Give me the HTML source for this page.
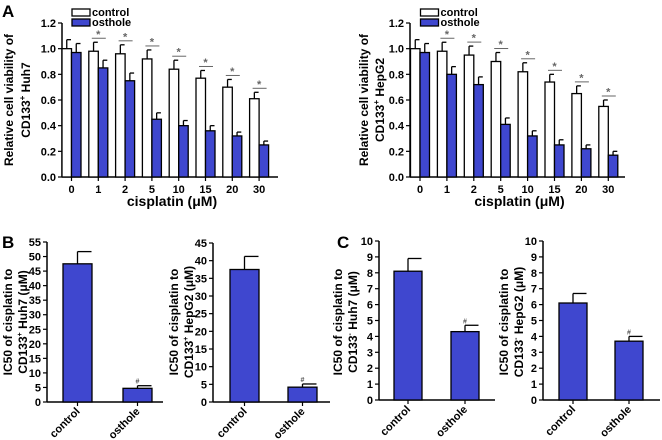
<!DOCTYPE html>
<html><head><meta charset="utf-8">
<style>
body{margin:0;background:#fff;}
svg{display:block;font-family:"Liberation Sans",Arial,sans-serif;font-weight:bold;}
</style></head>
<body>
<svg id="fig" width="662" height="440" viewBox="0 0 662 440"></svg>
<script>
const doseCategories=["0","1","2","5","10","15","20","30"];
const huh7Control=[1.0,0.98,0.96,0.92,0.84,0.77,0.70,0.61];
const huh7ControlErr=[0.07,0.07,0.07,0.07,0.07,0.06,0.06,0.05];
const huh7Osthole=[0.97,0.85,0.75,0.45,0.40,0.36,0.32,0.25];
const huh7OstholeErr=[0.07,0.06,0.06,0.05,0.04,0.04,0.03,0.03];
const hepControl=[1.0,0.98,0.95,0.90,0.82,0.74,0.65,0.55];
const hepControlErr=[0.07,0.07,0.07,0.07,0.07,0.06,0.06,0.05];
const hepOsthole=[0.97,0.80,0.72,0.41,0.32,0.25,0.22,0.17];
const hepOstholeErr=[0.07,0.06,0.06,0.05,0.04,0.04,0.03,0.03];
const viabilityTicks=[0,0.2,0.4,0.6,0.8,1.0,1.2];
const groupCategories=["control","osthole"];
const ic50Huh7Pos=[47.5,4.7], ic50Huh7PosErr=[4.2,0.9];
const ic50HepPos=[37.5,4.2], ic50HepPosErr=[3.7,0.9];
const ic50Huh7Neg=[8.1,4.3], ic50Huh7NegErr=[0.8,0.4];
const ic50HepNeg=[6.1,3.7], ic50HepNegErr=[0.6,0.3];
const ticksB1=[0,5,10,15,20,25,30,35,40,45,50,55];
const ticksB2=[0,5,10,15,20,25,30,35,40,45];
const ticksC=[0,1,2,3,4,5,6,7,8,9,10];

const NS="http://www.w3.org/2000/svg";
const svg=document.getElementById('fig');
const BLUE="#3f47cf";
function el(tag,attrs,parent){const e=document.createElementNS(NS,tag);for(const k in attrs)e.setAttribute(k,attrs[k]);(parent||svg).appendChild(e);return e;}
function txt(s,attrs,parent){const t=el('text',attrs,parent);t.textContent=s;return t;}

function yAxis(g,ax,y0,yTop,max,ticks,fmt){
  const ys=v=>y0-(v/max)*(y0-yTop);
  const a=el('line',{x1:ax,y1:y0,x2:ax,y2:yTop,stroke:'#000','stroke-width':1.5},g);
  
  ticks.forEach(v=>{
    el('line',{x1:ax-4,y1:ys(v),x2:ax,y2:ys(v),stroke:'#000','stroke-width':1.2},g);
    const t=txt(fmt(v),{x:ax-6,y:ys(v)+4,'text-anchor':'end','font-size':11},g);
    
  });
  return ys;
}
function bar(g,x,w,ys,y0,v,e,fill,name){
  const top=ys(v);
  const r=el('rect',{x:x,y:top,width:w,height:y0-top,fill:fill,stroke:'#000','stroke-width':1.3},g);
  
  const et=ys(v+e);
  el('line',{x1:x+w/2,y1:top,x2:x+w/2,y2:et,stroke:'#000','stroke-width':1.3},g);
  el('line',{x1:x+w/2,y1:et,x2:x+w-0.5,y2:et,stroke:'#000','stroke-width':1.3},g);
}
function titleLines(g,cx1,cx2,cy,l1,l2,fs){
  const a=txt('',{transform:`translate(${cx1},${cy}) rotate(-90)`,'text-anchor':'middle','font-size':fs},g);
  a.innerHTML=l1;
  
  const b=txt('',{transform:`translate(${cx2},${cy}) rotate(-90)`,'text-anchor':'middle','font-size':fs},g);
  b.innerHTML=l2;
}
function grouped(name,ax,axEnd,x0,step,ctrl,ctrlE,ost,ostE,tx1,tx2,l2){
  const g=el('g',{});
  
  const y0=177,yTop=23;
  const ys=yAxis(g,ax,y0,yTop,1.2,viabilityTicks,v=>v.toFixed(1));
  const xa=el('line',{x1:ax,y1:y0,x2:axEnd,y2:y0,stroke:'#000','stroke-width':1.5},g);
  
  const bw=9.5;
  doseCategories.forEach((c,i)=>{
    const x=x0+step*i;
    bar(g,x,bw,ys,y0,ctrl[i],ctrlE[i],'#fff','bar-control-'+c);
    bar(g,x+bw,bw,ys,y0,ost[i],ostE[i],BLUE,'bar-osthole-'+c);
    el('line',{x1:x+bw,y1:y0,x2:x+bw,y2:y0+4,stroke:'#000','stroke-width':1.2},g);
    const t=txt(c,{x:x+bw,y:y0+16,'text-anchor':'middle','font-size':11},g);
    
    if(i>0){
      const sy=ys(ctrl[i]+ctrlE[i])-4;
      el('line',{x1:x+3,y1:sy,x2:x+bw*2-2,y2:sy,stroke:'#666','stroke-width':1},g);
      const s=txt('*',{x:x+bw,y:sy-0.5,'text-anchor':'middle','font-size':11,fill:'#666'},g);
      
    }
  });
  const xt=txt('cisplatin (μM)',{x:(ax+axEnd)/2+2,y:206,'text-anchor':'middle','font-size':14},g);
  
  titleLines(g,tx1,tx2,100,'Relative cell viability of',l2,12);
  // legend
  const lx=x0+10;
  const r1=el('rect',{x:lx,y:9,width:18,height:7,fill:'#fff',stroke:'#000','stroke-width':1.3},g);
  
  const r2=el('rect',{x:lx,y:19,width:18,height:7,fill:BLUE,stroke:'#000','stroke-width':1.3},g);
  
  const t1=txt('control',{x:lx+20,y:16,'font-size':11},g);
  
  const t2=txt('osthole',{x:lx+20,y:26,'font-size':11},g);
  
}
grouped('chart-a-huh7',62,278,62,26.8,huh7Control,huh7ControlErr,huh7Osthole,huh7OstholeErr,13,30,'CD133<tspan font-size="8" dy="-5">+</tspan><tspan dy="5"> Huh7</tspan>');
grouped('chart-a-hepg2',410,625,410.5,26.9,hepControl,hepControlErr,hepOsthole,hepOstholeErr,368,384,'CD133<tspan font-size="8" dy="-5">+</tspan><tspan dy="5"> HepG2</tspan>');

function simple(name,ax,axEnd,y0,yTop,max,ticks,vals,errs,bx,bw,tx1,tx2,l2,cy){
  const g=el('g',{});
  
  const ys=yAxis(g,ax,y0,yTop,max,ticks,v=>String(v));
  const xa=el('line',{x1:ax,y1:y0,x2:axEnd,y2:y0,stroke:'#000','stroke-width':1.5},g);
  
  groupCategories.forEach((c,i)=>{
    bar(g,bx[i],bw,ys,y0,vals[i],errs[i],BLUE,'bar-'+c);
    const cx=bx[i]+bw/2;
    el('line',{x1:cx,y1:y0,x2:cx,y2:y0+4,stroke:'#000','stroke-width':1.2},g);
    const t=txt(c,{transform:`translate(${cx+3},${y0+10}) rotate(-45)`,'text-anchor':'end','font-size':11},g);
    
    if(i===1){
      const h=txt('#',{x:cx,y:ys(vals[i]+errs[i])-2,'text-anchor':'middle','font-size':7,fill:'#555'},g);
      
    }
  });
  titleLines(g,tx1,tx2,cy,'IC50 of cisplatin to',l2,12);
}
const sup=s=>`CD133<tspan font-size="7" dy="-5">${s}</tspan><tspan dy="5">`;
simple('chart-b-huh7',47,163,402,242,55,ticksB1,ic50Huh7Pos,ic50Huh7PosErr,[63,123],29,12,27,sup('+')+' Huh7 (μM)</tspan>',322);
simple('chart-b-hepg2',213,330,402,243,45,ticksB2,ic50HepPos,ic50HepPosErr,[230,288],29,178,193,sup('+')+' HepG2 (μM)</tspan>',322);
simple('chart-c-huh7',379,495,400,241,10,ticksC,ic50Huh7Neg,ic50Huh7NegErr,[394,451],28,342,357,sup('-')+' Huh7 (μM)</tspan>',322);
simple('chart-c-hepg2',543,660,400,241,10,ticksC,ic50HepNeg,ic50HepNegErr,[559,615],28,508,523,sup('-')+' HepG2 (μM)</tspan>',322);

[['A',2,17,'panel-label-a'],['B',2,248,'panel-label-b'],['C',337,248,'panel-label-c']].forEach(p=>{
  const t=txt(p[0],{x:p[1],y:p[2],'font-size':17},svg);
  
});
</script>
</body></html>
